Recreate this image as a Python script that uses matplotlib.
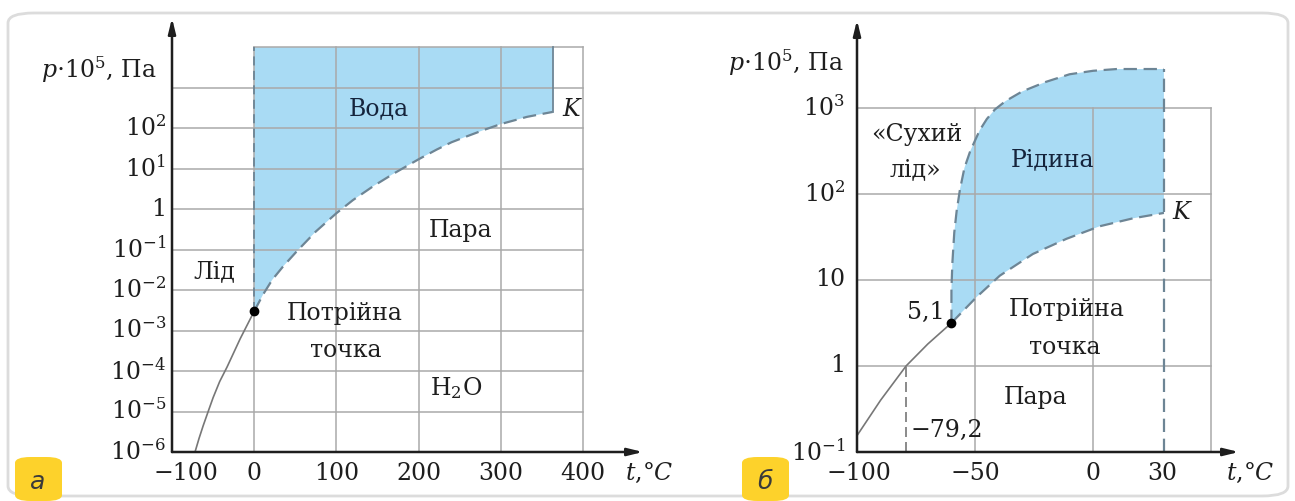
import matplotlib
matplotlib.use("Agg")
import matplotlib.pyplot as plt
from matplotlib.patches import FancyBboxPatch
import numpy as np

plt.rcParams['font.family'] = ['DejaVu Serif']
plt.rcParams['mathtext.fontset'] = 'dejavuserif'

# ---- panel a: water ----
# boiling curve (dashed), triple point -> critical point K
a_boil_t = [0, 11, 22, 35, 51, 75, 100, 120, 145, 170, 200, 222, 240, 259, 280, 300, 332, 363]
a_boil_p = [3.0e-3, 7.9e-3, 1.8e-2, 3.8e-2, 8.7e-2, 0.28, 0.79, 1.66, 3.7, 7.6, 17,
            29.5, 44.7, 63, 91, 126, 190, 251]
# sublimation curve (solid) below the triple point
a_subl_t = [-72, -67, -62, -56, -50, -42, -33, -17, 0]
a_subl_p = [1e-6, 2.2e-6, 4.5e-6, 1.0e-5, 2.2e-5, 5.5e-5, 1.26e-4, 6.3e-4, 3.0e-3]
a_top_p = 1e4
a_grid_t = [0, 100, 200, 300, 400]
a_grid_p = [1e-5, 1e-4, 1e-3, 1e-2, 1e-1, 1, 10, 100, 1000]
a_xticks = [-100, 0, 100, 200, 300, 400]
a_xlabels = ['−100', '0', '100', '200', '300', '400']
a_yticks = [1e-6, 1e-5, 1e-4, 1e-3, 1e-2, 1e-1, 1, 10, 100]
a_ylabels = [r'$10^{-6}$', r'$10^{-5}$', r'$10^{-4}$', r'$10^{-3}$', r'$10^{-2}$',
             r'$10^{-1}$', '1', r'$10^{1}$', r'$10^{2}$']

# ---- panel b: CO2 ----
b_melt_t = [-60, -60, -59.6, -58.8, -57.8, -56.4, -54.5, -52, -48, -45, -41.6, -37, -30,
            -20, -10, 0, 10, 30]
b_melt_p = [3.16, 7.9, 15.8, 35.5, 63, 112, 200, 316, 550, 741, 955, 1200, 1550,
            2000, 2450, 2690, 2820, 2820]
b_boil_t = [-60, -49.4, -39.5, -25.5, -11.3, 2.8, 17, 30]
b_boil_p = [3.16, 6.3, 11.2, 20, 30, 42, 52, 60]
b_subl_t = [-100, -90, -79.2, -70, -60]
b_subl_p = [0.155, 0.40, 1.0, 1.8, 3.16]
b_grid_t = [-50, 0, 50]
b_grid_p = [1, 10, 100, 1000]
b_dry_ice_t = -79.2
b_crit_t = 30
b_xticks = [-100, -50, 0, 30]
b_xlabels = ['−100', '−50', '0', '30']
b_yticks = [0.1, 1, 10, 100, 1000]
b_ylabels = [r'$10^{-1}$', '1', '10', r'$10^{2}$', r'$10^{3}$']

W, H = 1295, 501
fig = plt.figure(figsize=(W / 100, H / 100), dpi=100)
fig.patch.set_facecolor('white')

# card frame
card = FancyBboxPatch((8 / W, 5 / H), 1280 / W, 483 / H, boxstyle='round,pad=0,rounding_size=0.02',
                      transform=fig.transFigure, fc='none', ec='#dcdcdc', lw=2, zorder=0)
fig.patches.append(card)

blue = '#a9dbf4'
dash_c = '#6d8595'
grid_c = '#a9a9a9'
txt = '#1e1e1e'
navy = '#15243c'
fs = 17


def add_ax(left, right, bottom, top):
    return fig.add_axes([left / W, (H - bottom) / H, (right - left) / W, (bottom - top) / H])


def arrows(ax):
    for xy in [(1, 0), (0, 1)]:
        ax.annotate('', xy=xy, xytext=(0, 0), xycoords='axes fraction',
                    arrowprops=dict(arrowstyle='-|>,head_length=0.9,head_width=0.22',
                                    color=txt, lw=1.8, shrinkA=0, shrinkB=0), zorder=6)


def yticklabels(ax, ticks, labels, dx):
    for p, s in zip(ticks, labels):
        ax.annotate(s, xy=(0, p), xycoords=('axes fraction', 'data'), xytext=(dx, 0),
                    textcoords='offset pixels', ha='right', va='center', fontsize=fs,
                    color=txt, annotation_clip=False)


def xticklabels(ax, ticks, labels, shifts):
    for t, s, sh in zip(ticks, labels, shifts):
        ax.annotate(s, xy=(t, 0), xycoords=('data', 'axes fraction'), xytext=(sh, -21),
                    textcoords='offset pixels', ha='center', va='center', fontsize=fs,
                    color=txt, annotation_clip=False)


# ================= panel a =================
ax = add_ax(172, 643, 452, 18)
ax.set_yscale('log')
ax.set_xlim(-100, 473)
ax.set_ylim(1e-6, 10 ** 4.72)
ax.axis('off')

poly_t = [0, 0] + [a_boil_t[-1]] + a_boil_t[::-1]
poly_p = [a_boil_p[0], a_top_p] + [a_top_p] + a_boil_p[::-1]
ax.fill(poly_t, poly_p, color=blue, lw=0, zorder=1)

for t in a_grid_t:
    ax.plot([t, t], [1e-6, a_top_p], color=grid_c, lw=1.1, zorder=2)
for p in a_grid_p:
    ax.plot([-100, 400], [p, p], color=grid_c, lw=1.1, zorder=2)
ax.plot([0, 400], [a_top_p, a_top_p], color=grid_c, lw=1.1, zorder=2)

ax.plot([0, 0], [a_boil_p[0], a_top_p], color=dash_c, lw=1.3, ls=(0, (5, 3)), zorder=3)
ax.plot([a_boil_t[-1], a_boil_t[-1]], [a_boil_p[-1], a_top_p], color=dash_c, lw=1.3, zorder=3)
ax.plot(a_boil_t, a_boil_p, color=dash_c, lw=1.6, ls=(0, (6, 3)), zorder=3)
ax.plot(a_subl_t, a_subl_p, color='#777777', lw=1.2, zorder=3)
ax.plot([0], [a_boil_p[0]], 'o', color='black', ms=6, zorder=5)
arrows(ax)

yticklabels(ax, a_yticks, a_ylabels, -6)
xticklabels(ax, a_xticks, a_xlabels, [14, 0, 0, 0, 0, 0])
ax.annotate(r'$p{\cdot}10^5$, Па', xy=(0, 10 ** 3.45), xycoords=('axes fraction', 'data'),
            xytext=(-15, 0), textcoords='offset pixels', ha='right', va='center',
            fontsize=fs, color=txt, annotation_clip=False)
ax.annotate(r'$t$,°$C$', xy=(480, 0), xycoords=('data', 'axes fraction'), xytext=(0, -21),
            textcoords='offset pixels', ha='center', va='center', fontsize=fs,
            color=txt, annotation_clip=False)

ax.text(151, 295, 'Вода', ha='center', va='center', fontsize=fs, color=navy, zorder=4)
ax.text(375, 295, '$K$', ha='left', va='center', fontsize=fs, color=txt, zorder=4)
ax.text(251, 0.30, 'Пара', ha='center', va='center', fontsize=fs, color=txt, zorder=4)
ax.text(-49, 0.028, 'Лід', ha='center', va='center', fontsize=fs, color=txt, zorder=4)
ax.text(110, 0.0027, 'Потрійна', ha='center', va='center', fontsize=fs, color=txt, zorder=4)
ax.text(111, 3.3e-4, 'точка', ha='center', va='center', fontsize=fs, color=txt, zorder=4)
ax.text(245, 3.8e-5, r'H$_2$O', ha='center', va='center', fontsize=fs, color=txt, zorder=4)

# ================= panel b =================
bx = add_ax(857, 1239, 452, 20)
bx.set_yscale('log')
bx.set_xlim(-100, 61.8)
bx.set_ylim(0.1, 10 ** 4.02)
bx.axis('off')

poly_t = b_melt_t + b_boil_t[::-1]
poly_p = b_melt_p + b_boil_p[::-1]
bx.fill(poly_t, poly_p, color=blue, lw=0, zorder=1)

for t in b_grid_t:
    bx.plot([t, t], [0.1, 1000], color=grid_c, lw=1.1, zorder=2)
for p in b_grid_p:
    bx.plot([-100, 50], [p, p], color=grid_c, lw=1.1, zorder=2)

dsh = (0, (6, 3))
bx.plot(b_melt_t, b_melt_p, color=dash_c, lw=1.6, ls=dsh, zorder=3)
bx.plot(b_boil_t, b_boil_p, color=dash_c, lw=1.6, ls=dsh, zorder=3)
bx.plot([b_crit_t, b_crit_t], [0.1, b_melt_p[-1]], color=dash_c, lw=1.6, ls=dsh, zorder=3)
bx.plot([b_dry_ice_t, b_dry_ice_t], [0.1, 1], color='#777777', lw=1.2, ls=dsh, zorder=3)
bx.plot(b_subl_t, b_subl_p, color='#777777', lw=1.2, zorder=3)
bx.plot([b_subl_t[-1]], [b_subl_p[-1]], 'o', color='black', ms=6, zorder=5)
arrows(bx)

yticklabels(bx, b_yticks, b_ylabels, -12)
xticklabels(bx, b_xticks, b_xlabels, [2, 0, 0, -2])
bx.annotate(r'$p{\cdot}10^5$, Па', xy=(0, 10 ** 3.53), xycoords=('axes fraction', 'data'),
            xytext=(-13, 0), textcoords='offset pixels', ha='right', va='center',
            fontsize=fs, color=txt, annotation_clip=False)
bx.annotate(r'$t$,°$C$', xy=(66.4, 0), xycoords=('data', 'axes fraction'), xytext=(0, -21),
            textcoords='offset pixels', ha='center', va='center', fontsize=fs,
            color=txt, annotation_clip=False)

bx.text(-74.7, 490, '«Сухий', ha='center', va='center', fontsize=fs, color=txt, zorder=4)
bx.text(-75.2, 190, 'лід»', ha='center', va='center', fontsize=fs, color=txt, zorder=4)
bx.text(-17, 251, 'Рідина', ha='center', va='center', fontsize=fs, color=navy, zorder=4)
bx.text(33.5, 60, '$K$', ha='left', va='center', fontsize=fs, color=txt, zorder=4)
bx.text(-63, 4.2, '5,1', ha='right', va='center', fontsize=fs, color=txt, zorder=4)
bx.text(-11, 4.5, 'Потрійна', ha='center', va='center', fontsize=fs, color=txt, zorder=4)
bx.text(-12, 1.66, 'точка', ha='center', va='center', fontsize=fs, color=txt, zorder=4)
bx.text(-24.2, 0.43, 'Пара', ha='center', va='center', fontsize=fs, color=txt, zorder=4)
bx.text(-77.5, 0.18, '−79,2', ha='left', va='center', fontsize=fs, color=txt, zorder=4)

# panel letters in yellow tabs
for x0, letter in [(15, 'а'), (742, 'б')]:
    tab = FancyBboxPatch((x0 / W, 0), 47 / W, 44 / H, boxstyle='round,pad=0,rounding_size=0.012',
                         transform=fig.transFigure, fc='#fdd22b', ec='none', zorder=3)
    fig.patches.append(tab)
    fig.text((x0 + 23) / W, 19 / H, letter, ha='center', va='center', fontsize=18,
             family='DejaVu Sans', style='italic', color='#3a3a3a', zorder=4)

fig.savefig('out.png', dpi=100)
